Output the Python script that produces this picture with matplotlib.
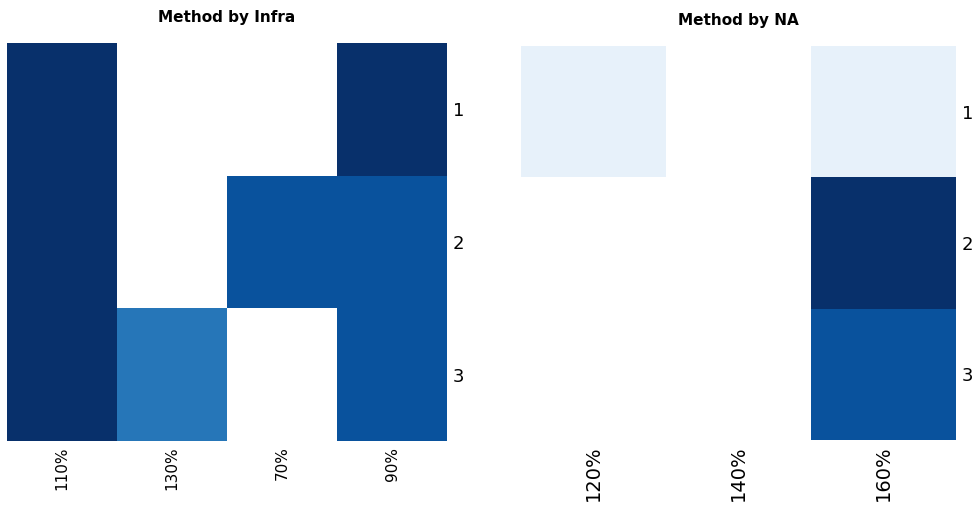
import numpy as np
import matplotlib.pyplot as plt

# share of runs per method, split by infrastructure level and by NA level
rows = ["1", "2", "3"]

infra_cols = ["110%", "130%", "70%", "90%"]
infra_vals = np.array([
    [1.00, np.nan, np.nan, 1.00],
    [1.00, np.nan, 0.87, 0.87],
    [1.00, 0.73, np.nan, 0.87],
])

na_cols = ["120%", "140%", "160%"]
na_vals = np.array([
    [0.08, np.nan, 0.08],
    [np.nan, np.nan, 1.00],
    [np.nan, np.nan, 0.87],
])

fig = plt.figure(figsize=(9.76, 5.07), dpi=100)
ax1 = fig.add_axes([7 / 976, 1 - 441 / 507, 440 / 976, 398 / 507])
ax2 = fig.add_axes([521 / 976, 1 - 440 / 507, 435 / 976, 394 / 507])


def heat(ax, vals, cols, title, xfs, yfs):
    data = np.ma.masked_invalid(vals)
    ax.pcolormesh(data, cmap="Blues", vmin=0, vmax=1)
    ax.set_xlim(0, vals.shape[1])
    ax.set_ylim(vals.shape[0], 0)
    ax.set_xticks(np.arange(len(cols)) + 0.5)
    ax.set_xticklabels(cols, rotation=90, fontsize=xfs)
    ax.set_yticks(np.arange(len(rows)) + 0.5)
    ax.set_yticklabels(rows, fontsize=yfs)
    ax.yaxis.tick_right()
    ax.tick_params(length=0, pad=4)
    for s in ax.spines.values():
        s.set_visible(False)
    ax.set_title(title, fontsize=11, fontweight="bold", pad=15)


heat(ax1, infra_vals, infra_cols, "Method by Infra", 11, 13)
heat(ax2, na_vals, na_cols, "Method by NA", 14, 13)

fig.savefig("out.png", dpi=100)
